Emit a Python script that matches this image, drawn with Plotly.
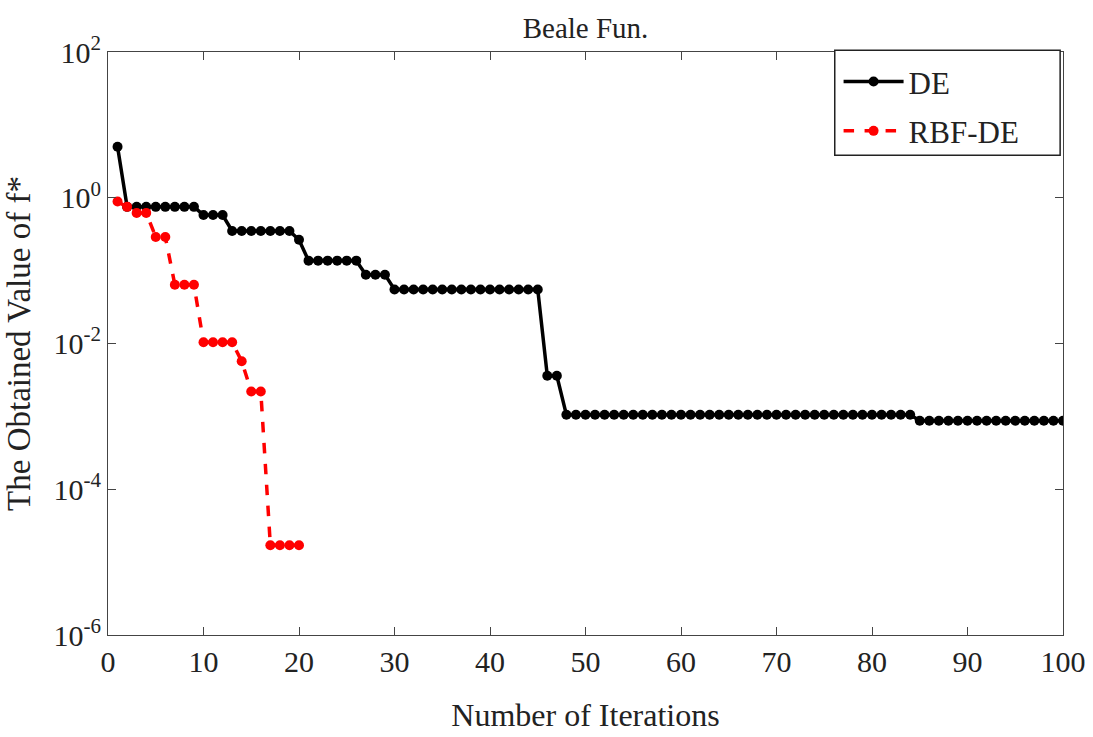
import plotly.graph_objects as go

iters_de = list(range(1, 101))
de_vals = ([5.0] + [0.75] * 8 + [0.58] * 3 + [0.35] * 7 + [0.265] + [0.137] * 6 + [0.088] * 3
           + [0.055] * 16 + [0.0036] * 2 + [0.00105] * 37 + [0.00087] * 16)

iters_rbf = list(range(1, 21))
rbf_vals = [0.89, 0.75, 0.62, 0.62, 0.29, 0.29, 0.064, 0.064, 0.064,
            0.0104, 0.0104, 0.0104, 0.0104, 0.0057, 0.0022, 0.0022,
            1.7e-5, 1.7e-5, 1.7e-5, 1.7e-5]

x_ticks = list(range(0, 101, 10))
y_tickvals = [1e2, 1e0, 1e-2, 1e-4, 1e-6]
y_ticktext = ["10<sup>2</sup>", "10<sup>0</sup>", "10<sup>-2</sup>", "10<sup>-4</sup>", "10<sup>-6</sup>"]

FONT = "Liberation Serif"

fig = go.Figure()
fig.add_trace(go.Scatter(
    x=iters_de[:len(de_vals)], y=de_vals, name="DE", mode="lines+markers",
    legendgroup="a",
    line=dict(color="black", width=3.5),
    marker=dict(symbol="circle", size=10, color="black"),
))
fig.add_trace(go.Scatter(
    x=iters_rbf, y=rbf_vals, name="RBF-DE", mode="lines+markers",
    legendgroup="b",
    line=dict(color="#ff0000", width=3.5, dash="dash"),
    marker=dict(symbol="circle", size=10, color="#ff0000"),
))

axis_common = dict(
    showgrid=False, zeroline=False, showline=True, linecolor="#444444", linewidth=1.2,
    mirror="allticks", ticks="inside", ticklen=8, tickcolor="#444444",
    tickfont=dict(family=FONT, size=30, color="#222222"), automargin=False,
)

# legend frame (paper coordinates)
fig.add_shape(type="rect", xref="paper", yref="paper",
              x0=0.761, x1=0.997, y0=0.823, y1=1.003,
              line=dict(color="#222222", width=1.5), fillcolor="white", layer="above")

fig.update_layout(
    width=1093, height=737,
    paper_bgcolor="white", plot_bgcolor="white",
    margin=dict(l=108, r=30, t=52, b=102),
    font=dict(family=FONT, color="#222222"),
    title=dict(text="Beale Fun.", x=0.5, xref="paper", xanchor="center",
               y=1 - 28 / 737, yref="container", yanchor="middle",
               font=dict(family=FONT, size=29, color="#222222")),
    xaxis=dict(range=[0, 100], tickvals=x_ticks,
               title=dict(text="Number of Iterations", standoff=26,
                          font=dict(family=FONT, size=32, color="#222222")),
               **axis_common),
    yaxis=dict(type="log", range=[-6, 2], tickvals=y_tickvals, ticktext=y_ticktext,
               title=dict(text="The Obtained Value of f*", standoff=12,
                          font=dict(family=FONT, size=33, color="#222222")),
               **axis_common),
    legend=dict(x=0.765, y=0.995, xanchor="left", yanchor="top",
                bgcolor="rgba(0,0,0,0)", borderwidth=0,
                font=dict(family=FONT, size=31, color="#222222"),
                itemwidth=60, traceorder="grouped", tracegroupgap=6),
    showlegend=True,
)

fig.write_html("out.html")
